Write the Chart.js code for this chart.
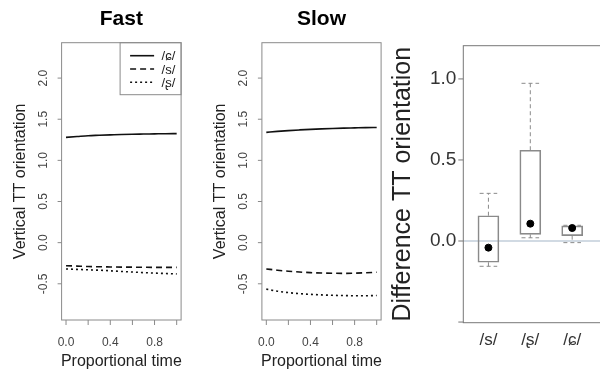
<!DOCTYPE html>
<html><head><meta charset="utf-8">
<script src="https://cdn.jsdelivr.net/npm/chart.js@4/dist/chart.umd.min.js"></script>
<style>
html,body{margin:0;padding:0;width:600px;height:374px;overflow:hidden;background:#fff;}
canvas{position:absolute;top:0;}
</style></head><body>
<canvas id="cFast" width="200" height="374" style="left:0px"></canvas>
<canvas id="cSlow" width="190" height="374" style="left:200px"></canvas>
<canvas id="cDiff" width="250" height="374" style="left:390px"></canvas>
<script>
// ---------- data ----------
const TIME = [0, 0.1, 0.2, 0.3, 0.4, 0.5, 0.6, 0.7, 0.8, 0.9, 1.0];
const SERIES_LABELS = ['/ɕ/', '/s/', '/ʂ/'];
const FAST_ALVEOLOPALATAL = [1.28, 1.29, 1.30, 1.305, 1.31, 1.315, 1.318, 1.32, 1.322, 1.324, 1.325];
const FAST_ALVEOLAR = [-0.28, -0.285, -0.29, -0.293, -0.295, -0.297, -0.298, -0.299, -0.30, -0.30, -0.30];
const FAST_RETROFLEX = [-0.32, -0.325, -0.33, -0.335, -0.342, -0.35, -0.357, -0.364, -0.37, -0.375, -0.38];
const SLOW_ALVEOLOPALATAL = [1.34, 1.352, 1.362, 1.37, 1.377, 1.383, 1.388, 1.392, 1.395, 1.398, 1.40];
const SLOW_ALVEOLAR = [-0.32, -0.335, -0.347, -0.357, -0.364, -0.369, -0.372, -0.373, -0.371, -0.366, -0.36];
const SLOW_RETROFLEX = [-0.565, -0.59, -0.607, -0.62, -0.628, -0.635, -0.64, -0.643, -0.645, -0.645, -0.643];
const X_TICKS = [0, 0.2, 0.4, 0.6, 0.8, 1.0];
const X_TICK_LABELS = ['0.0', '', '0.4', '', '0.8', ''];
const Y_TICKS = [-0.5, 0, 0.5, 1.0, 1.5, 2.0];
const Y_TICK_LABELS = ['-0.5', '0.0', '0.5', '1.0', '1.5', '2.0'];

const CATEGORIES = ['/s/', '/ʂ/', '/ɕ/'];
const BOX_LOW = [-0.156, 0.020, -0.010];
const BOX_Q1 = [-0.131, 0.041, 0.033];
const BOX_Q3 = [0.156, 0.560, 0.093];
const BOX_HIGH = [0.294, 0.973, 0.097];
const BOX_MEAN = [-0.041, 0.107, 0.080];
const DIFF_Y_TICKS = [-0.5, 0, 0.5, 1.0];
const DIFF_Y_TICK_LABELS = ['', '0.0', '0.5', '1.0'];
const REF_VALUE = 0;

// ---------- styles ----------
const FONT = '"Liberation Sans", Arial, "DejaVu Sans", sans-serif';
const FRAME = '#8a8a8a';
const LINE_DASHES = [[], [6, 4], [2, 3]];
const CAP_HALF = 0.21;

function linePlugin(title, showLegend) {
  return {
    id: 'rstyle',
    afterDraw(chart) {
      const { ctx, chartArea: a, scales: { x, y } } = chart;
      const cx = (a.left + a.right) / 2, cy = (a.top + a.bottom) / 2;
      ctx.save();
      ctx.strokeStyle = FRAME; ctx.lineWidth = 1; ctx.setLineDash([]);
      ctx.strokeRect(a.left, a.top, a.right - a.left, a.bottom - a.top);
      ctx.beginPath();
      X_TICKS.forEach(v => { const p = x.getPixelForValue(v); ctx.moveTo(p, a.bottom); ctx.lineTo(p, a.bottom + 5); });
      Y_TICKS.forEach(v => { const p = y.getPixelForValue(v); ctx.moveTo(a.left - 4, p); ctx.lineTo(a.left, p); });
      ctx.stroke();
      ctx.fillStyle = '#444'; ctx.font = '12px ' + FONT; ctx.textAlign = 'center'; ctx.textBaseline = 'alphabetic';
      X_TICKS.forEach((v, i) => { if (X_TICK_LABELS[i]) ctx.fillText(X_TICK_LABELS[i], x.getPixelForValue(v), a.bottom + 25.5); });
      Y_TICKS.forEach((v, i) => {
        ctx.save(); ctx.translate(a.left - 15, y.getPixelForValue(v)); ctx.rotate(-Math.PI / 2);
        ctx.fillText(Y_TICK_LABELS[i], 0, 0); ctx.restore();
      });
      ctx.fillStyle = '#222'; ctx.font = '16px ' + FONT;
      ctx.fillText('Proportional time', cx, 366);
      ctx.save(); ctx.translate(a.left - 37, cy); ctx.rotate(-Math.PI / 2);
      ctx.fillText('Vertical TT orientation', 0, 0); ctx.restore();
      ctx.fillStyle = '#000'; ctx.font = 'bold 21px ' + FONT;
      ctx.fillText(title, cx, 25);
      if (showLegend) {
        const lx = a.right - 61, lb = a.top + 52;
        ctx.strokeStyle = FRAME; ctx.lineWidth = 1;
        ctx.strokeRect(lx, a.top, a.right - lx, lb - a.top);
        ctx.font = '13px ' + FONT; ctx.textAlign = 'left'; ctx.textBaseline = 'middle'; ctx.fillStyle = '#222';
        chart.data.datasets.forEach((ds, i) => {
          const ry = a.top + 13 + i * 13.3;
          ctx.strokeStyle = '#111'; ctx.lineWidth = 1.6; ctx.setLineDash(LINE_DASHES[i]);
          ctx.beginPath(); ctx.moveTo(a.right - 51, ry); ctx.lineTo(a.right - 27, ry); ctx.stroke();
          ctx.setLineDash([]);
          ctx.fillText(ds.label, a.right - 19.5, ry + 1);
        });
      }
      ctx.restore();
    }
  };
}

function linePanel(id, title, series, pad, showLegend) {
  const datasets = series.map((vals, i) => ({
    label: SERIES_LABELS[i],
    data: TIME.map((t, k) => ({ x: t, y: vals[k] })),
    borderColor: '#111', borderWidth: 1.6, borderDash: LINE_DASHES[i],
    pointRadius: 0, fill: false, cubicInterpolationMode: 'monotone'
  }));
  new Chart(document.getElementById(id), {
    type: 'line',
    data: { datasets },
    options: {
      responsive: false, animation: false, devicePixelRatio: 1,
      layout: { padding: pad },
      plugins: { legend: { display: false }, tooltip: { enabled: false }, title: { display: false } },
      scales: {
        x: { type: 'linear', min: -0.04, max: 1.04, display: false, offset: false },
        y: { type: 'linear', min: -0.94, max: 2.43, display: false }
      }
    },
    plugins: [linePlugin(title, showLegend)]
  });
}

linePanel('cFast', 'Fast', [FAST_ALVEOLOPALATAL, FAST_ALVEOLAR, FAST_RETROFLEX],
  { left: 61.6, right: 18.9, top: 42.7, bottom: 54 }, true);
linePanel('cSlow', 'Slow', [SLOW_ALVEOLOPALATAL, SLOW_ALVEOLAR, SLOW_RETROFLEX],
  { left: 61.9, right: 8.9, top: 42.7, bottom: 54 }, false);

// ---------- boxplot panel ----------
const whiskerPts = [];
CATEGORIES.forEach((c, i) => {
  const xc = i + 1;
  whiskerPts.push({ x: xc, y: BOX_Q3[i] }, { x: xc, y: BOX_HIGH[i] }, { x: xc, y: null });
  whiskerPts.push({ x: xc, y: BOX_Q1[i] }, { x: xc, y: BOX_LOW[i] }, { x: xc, y: null });
  whiskerPts.push({ x: xc - CAP_HALF, y: BOX_HIGH[i] }, { x: xc + CAP_HALF, y: BOX_HIGH[i] }, { x: xc, y: null });
  whiskerPts.push({ x: xc - CAP_HALF, y: BOX_LOW[i] }, { x: xc + CAP_HALF, y: BOX_LOW[i] }, { x: xc, y: null });
});

const diffPlugin = {
  id: 'rdiff',
  beforeDatasetsDraw(chart) {
    const { ctx, chartArea: a, scales: { y } } = chart;
    const p = y.getPixelForValue(REF_VALUE);
    ctx.save(); ctx.strokeStyle = '#a3b6c8'; ctx.lineWidth = 1.2;
    ctx.beginPath(); ctx.moveTo(a.left, p); ctx.lineTo(a.right, p); ctx.stroke(); ctx.restore();
  },
  afterDraw(chart) {
    const { ctx, chartArea: a, scales: { x, y } } = chart;
    ctx.save();
    ctx.strokeStyle = '#777'; ctx.lineWidth = 1;
    ctx.strokeRect(a.left, a.top, a.right - a.left, a.bottom - a.top);
    ctx.beginPath();
    DIFF_Y_TICKS.forEach(v => { const p = y.getPixelForValue(v); ctx.moveTo(a.left - 5, p); ctx.lineTo(a.left, p); });
    ctx.stroke();
    ctx.fillStyle = '#333'; ctx.font = '19px ' + FONT; ctx.textAlign = 'right'; ctx.textBaseline = 'middle';
    DIFF_Y_TICKS.forEach((v, i) => { if (DIFF_Y_TICK_LABELS[i]) ctx.fillText(DIFF_Y_TICK_LABELS[i], a.left - 7, y.getPixelForValue(v)); });
    ctx.font = '17px ' + FONT; ctx.textAlign = 'center'; ctx.textBaseline = 'alphabetic';
    CATEGORIES.forEach((c, i) => ctx.fillText(c, x.getPixelForValue(i + 1), 345));
    ctx.fillStyle = '#222'; ctx.font = '25px ' + FONT;
    ctx.save(); ctx.translate(a.left - 53.5, (a.top + a.bottom) / 2); ctx.rotate(-Math.PI / 2);
    ctx.fillText('Difference TT orientation', 0, 0); ctx.restore();
    ctx.restore();
  }
};

new Chart(document.getElementById('cDiff'), {
  type: 'bar',
  data: {
    datasets: [
      {
        type: 'bar', label: 'IQR',
        data: CATEGORIES.map((c, i) => ({ x: i + 1, y: [BOX_Q1[i], BOX_Q3[i]] })),
        backgroundColor: 'rgba(0,0,0,0)', borderColor: FRAME, borderWidth: 1,
        borderSkipped: false, barThickness: 21, grouped: false, order: 2
      },
      {
        type: 'line', label: 'whiskers', data: whiskerPts,
        borderColor: FRAME, borderWidth: 1, borderDash: [4, 3],
        pointRadius: 0, spanGaps: false, fill: false, order: 1
      },
      {
        type: 'scatter', label: 'mean',
        data: CATEGORIES.map((c, i) => ({ x: i + 1, y: BOX_MEAN[i] })),
        pointRadius: 3.5, backgroundColor: '#000', borderColor: '#000', order: 0
      }
    ]
  },
  options: {
    responsive: false, animation: false, devicePixelRatio: 1,
    layout: { padding: { left: 73.3, right: 1.2, top: 45.7, bottom: 51.3 } },
    plugins: { legend: { display: false }, tooltip: { enabled: false }, title: { display: false } },
    scales: {
      x: { type: 'linear', min: 0.4, max: 4.5, display: false, offset: false },
      y: { type: 'linear', min: -0.504, max: 1.205, display: false }
    }
  },
  plugins: [diffPlugin]
});
</script>
</body></html>
